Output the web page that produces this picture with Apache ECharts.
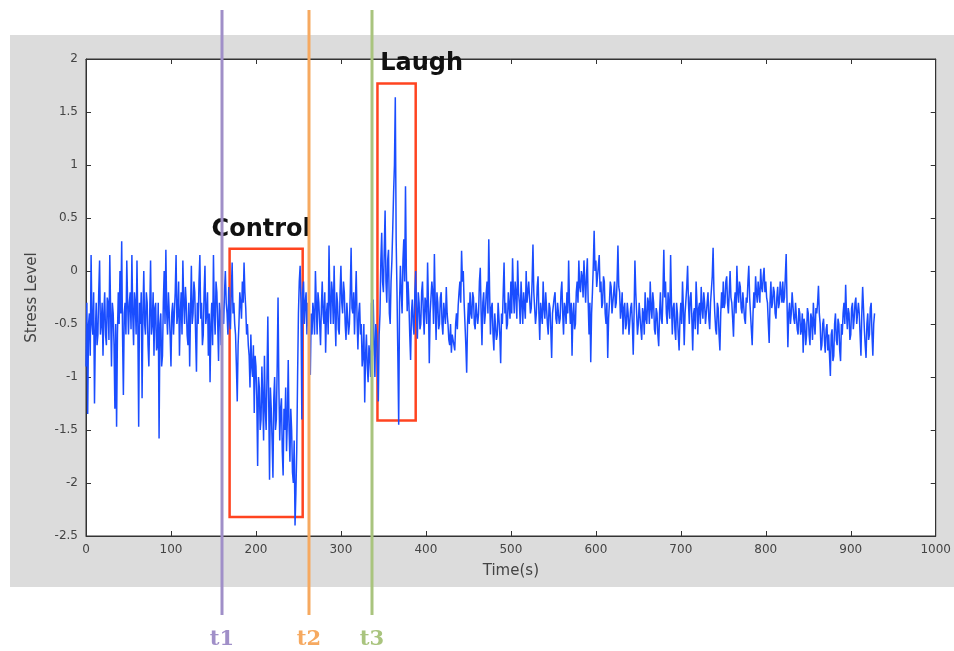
<!DOCTYPE html>
<html>
<head>
<meta charset="utf-8">
<title>Stress Level</title>
<script src="https://cdn.jsdelivr.net/npm/echarts@6/dist/echarts.min.js"></script>
<style>
    html, body { margin: 0; padding: 0; background: #fff; }
    #wrap { position: relative; width: 954px; height: 651px; }
    #panel { position: absolute; left: 10px; top: 35px; width: 944px; height: 552px; background: #dcdcdc; }
    #main { position: absolute; left: 0; top: 0; width: 954px; height: 651px; }
</style>
</head>
<body>
<div id="wrap">
    <div id="panel"></div>
    <div id="main"></div>
</div>
<script>
// one sample per second
var sampleStep = 1;
var stress = [
    // 0 - 49
    -0.9, -0.3, -1.35, -0.5, -0.4, -0.8, 0.15, -0.5, -0.6, -0.2, -1.25, -0.6, -0.3, -0.7, -0.6, -0.2, 0.1, -0.6, -0.5, -0.3,
    -0.8, -0.4, -0.2, -0.6, -0.7, -0.25, -0.3, -0.65, 0.15, -0.4, -0.9, -0.3, -0.4, -0.7, -1.3, -0.5, -1.47, -0.6, -0.2, -0.5,
    0.0, -0.4, 0.28, -0.6, -1.17, -0.4, -0.3, -0.6, 0.1, -0.3,
    // 50 - 99
    -0.6, -0.3, -0.2, -0.55, 0.15, -0.4, -0.7, -0.2, -0.3, -0.6, 0.1, -0.5, -1.47, -0.3, -0.5, -0.2, -1.2, -0.4, 0.0, -0.5,
    -0.6, -0.2, -0.3, -0.7, -0.9, -0.4, 0.1, -0.6, -0.5, -0.2, -0.8, -0.35, -0.3, -0.75, -0.7, -0.3, -1.58, -0.5, -0.4, -0.9,
    -0.8, -0.3, 0.0, -0.5, 0.2, -0.4, -0.6, -0.2, -0.2, -0.6,
    // 100 - 149
    -0.9, -0.4, -0.3, -0.6, -0.6, -0.2, 0.15, -0.5, -0.4, -0.1, -0.8, -0.4, -0.2, -0.6, 0.1, -0.3, -0.5, -0.15, -0.3, -0.6,
    -0.7, -0.3, -0.9, -0.4, 0.05, -0.5, -0.4, -0.1, -0.2, -0.6, -0.95, -0.3, -0.5, -0.1, 0.15, -0.45, -0.3, -0.7, -0.6, -0.2,
    0.05, -0.5, -0.4, -0.2, -0.8, -0.4, -1.05, -0.5, -0.3, -0.7,
    // 150 - 199
    0.15, -0.4, -0.6, -0.1, -0.2, -0.5, -0.85, -0.3, -0.4, -0.7, -0.1, -0.45, -0.5, -0.2, 0.0, -0.3, -0.4, -0.6, -0.15, -0.45,
    -0.55, -0.2, 0.08, -0.4, -0.3, -0.5, -0.6, -0.9, -1.23, -0.7, -0.5, -0.2, -0.3, -0.45, -0.1, -0.3, 0.08, -0.2, -0.35, -0.6,
    -0.5, -0.7, -0.8, -1.1, -0.6, -0.9, -1.0, -0.7, -1.34, -0.8,
    // 200 - 249
    -0.9, -1.2, -1.84, -1.0, -1.1, -1.5, -1.4, -0.9, -1.2, -1.6, -0.8, -1.3, -1.5, -1.0, -0.43, -1.2, -1.97, -1.1, -1.3, -1.6,
    -1.95, -1.2, -1.0, -1.5, -1.4, -0.9, -0.25, -1.1, -1.6, -1.3, -1.2, -1.7, -1.93, -1.3, -1.5, -1.1, -1.7, -1.4, -0.84, -1.5,
    -1.8, -1.3, -1.5, -1.9, -2.0, -1.6, -2.4, -2.1, -1.7, -1.0,
    // 250 - 299
    -0.4, -0.1, 0.05, -0.3, -1.4, -0.2, -0.1, -0.5, -0.3, -0.2, -0.6, -0.3, -0.5, -0.7, -0.98, -0.4, -0.6, -0.3, -0.4, -0.6,
    0.0, -0.3, -0.6, -0.2, -0.3, -0.5, -0.7, -0.35, -0.1, -0.4, -0.5, -0.2, -0.77, -0.4, -0.3, -0.6, 0.24, -0.3, -0.5, -0.1,
    -0.2, -0.5, 0.05, -0.4, -0.71, -0.2, -0.3, -0.55, -0.6, -0.2,
    // 300 - 349
    0.05, -0.3, -0.4, -0.1, -0.2, -0.5, -0.65, -0.3, -0.3, -0.6, -0.5, -0.2, 0.22, -0.35, -0.4, -0.2, -0.6, -0.3, 0.0, -0.45,
    -0.74, -0.4, -0.3, -0.6, -0.5, -0.9, -0.8, -0.5, -1.24, -0.8, -0.6, -0.9, -1.05, -0.7, -0.8, -1.0, -0.3, -0.8, -0.27, -0.7,
    -1.0, -0.5, -0.6, -0.9, -1.23, -0.6, -0.4, 0.1, 0.36, -0.1,
    // 350 - 399
    -0.2, 0.2, 0.57, -0.1, -0.3, 0.1, 0.2, -0.4, -0.5, -0.1, 0.1, 0.4, 0.74, 1.0, 1.64, 0.3, -0.2, -0.8, -1.45, -0.3,
    0.05, -0.2, -0.4, 0.1, 0.3, -0.1, 0.8, 0.0, -0.38, -0.1, -0.3, -0.6, -0.84, -0.4, -0.27, -0.5, -0.6, -0.2, 0.0, -0.4,
    -0.64, -0.2, -0.3, -0.55, -0.5, -0.2, -0.1, -0.4, -0.6, -0.25,
    // 400 - 449
    -0.3, -0.5, 0.08, -0.3, -0.87, -0.4, -0.4, -0.1, -0.2, -0.5, 0.16, -0.3, -0.65, -0.2, -0.3, -0.55, -0.5, -0.25, -0.2, -0.5,
    -0.6, -0.3, -0.3, -0.5, -0.15, -0.4, -0.5, -0.65, -0.7, -0.5, -0.77, -0.6, -0.6, -0.7, -0.75, -0.5, -0.4, -0.55, -0.33, -0.2,
    -0.1, -0.3, 0.19, -0.1, 0.0, -0.3, -0.5, -0.7, -0.96, -0.5,
    // 450 - 499
    -0.3, -0.5, -0.2, -0.4, -0.45, -0.2, -0.25, -0.5, -0.55, -0.3, -0.3, -0.5, -0.4, -0.1, 0.03, -0.4, -0.7, -0.3, -0.2, -0.5,
    -0.4, -0.2, -0.1, -0.4, 0.3, -0.2, -0.6, -0.35, -0.3, -0.6, -0.75, -0.4, -0.4, -0.65, -0.6, -0.3, -0.3, -0.6, -0.87, -0.4,
    -0.5, -0.2, 0.08, -0.4, -0.3, -0.55, -0.5, -0.2, -0.2, -0.45,
    // 500 - 549
    -0.1, -0.4, 0.12, -0.2, -0.4, -0.1, -0.2, -0.45, 0.1, -0.2, -0.3, -0.5, -0.1, -0.3, -0.5, -0.2, -0.2, -0.45, 0.0, -0.3,
    -0.3, -0.1, -0.1, -0.4, -0.35, -0.1, 0.25, -0.2, -0.2, -0.5, -0.4, -0.15, -0.05, -0.4, -0.65, -0.3, -0.3, -0.5, -0.1, -0.35,
    -0.45, -0.2, -0.2, -0.5, -0.6, -0.3, -0.35, -0.55, -0.82, -0.4,
    // 550 - 599
    -0.4, -0.25, -0.2, -0.45, -0.5, -0.3, -0.3, -0.5, -0.45, -0.2, -0.1, -0.4, -0.6, -0.3, -0.35, -0.5, -0.2, -0.4, 0.1, -0.3,
    -0.5, -0.3, -0.8, -0.4, -0.3, -0.55, -0.5, -0.2, -0.1, -0.3, 0.1, -0.15, -0.2, 0.0, -0.05, -0.25, 0.1, -0.1, -0.3, -0.05,
    0.12, -0.3, -0.6, -0.3, -0.86, -0.4, -0.2, 0.05, 0.38, 0.0,
    // 600 - 649
    0.1, -0.15, -0.05, 0.05, 0.15, -0.2, -0.1, -0.35, -0.3, -0.05, -0.1, -0.4, -0.5, -0.3, -0.82, -0.45, -0.3, -0.1, -0.15, -0.4,
    -0.4, -0.2, -0.1, -0.35, -0.3, -0.1, 0.24, -0.15, -0.2, -0.45, -0.35, -0.2, -0.6, -0.35, -0.3, -0.55, -0.5, -0.3, -0.4, -0.6,
    -0.6, -0.35, -0.3, -0.5, -0.79, -0.4, 0.1, -0.2, -0.4, -0.6,
    // 650 - 699
    -0.5, -0.3, -0.3, -0.55, -0.65, -0.35, -0.4, -0.6, -0.2, -0.45, -0.5, -0.25, -0.3, -0.5, -0.1, -0.35, -0.45, -0.2, -0.3, -0.55,
    -0.6, -0.35, -0.4, -0.6, -0.71, -0.4, -0.2, -0.45, -0.5, -0.2, 0.2, -0.25, -0.1, -0.4, -0.5, -0.2, -0.2, -0.45, 0.15, -0.3,
    -0.6, -0.35, -0.3, -0.55, -0.65, -0.3, -0.4, -0.6, -0.75, -0.45,
    // 700 - 749
    -0.3, -0.5, -0.1, -0.35, -0.7, -0.4, -0.4, -0.15, 0.05, -0.3, -0.5, -0.25, -0.2, -0.45, -0.75, -0.4, -0.35, -0.55, -0.1, -0.3,
    -0.6, -0.35, -0.3, -0.5, -0.15, -0.35, -0.45, -0.2, -0.3, -0.5, -0.5, -0.3, -0.2, -0.45, -0.55, -0.3, -0.3, -0.05, 0.22, -0.2,
    -0.4, -0.55, -0.6, -0.3, -0.35, -0.6, -0.75, -0.4, -0.2, -0.35,
    // 750 - 799
    -0.1, -0.35, -0.3, -0.1, -0.05, -0.3, -0.4, -0.2, 0.0, -0.25, -0.3, -0.45, -0.62, -0.3, -0.2, -0.4, 0.05, -0.2, -0.3, -0.1,
    -0.15, -0.35, -0.4, -0.2, -0.2, -0.45, -0.5, -0.25, -0.3, -0.1, 0.05, -0.25, -0.4, -0.55, -0.7, -0.4, -0.2, -0.35, -0.05, -0.2,
    -0.3, -0.1, -0.1, -0.3, 0.02, -0.15, -0.2, -0.05, 0.03, -0.2,
    // 800 - 849
    -0.1, -0.25, -0.3, -0.5, -0.68, -0.3, -0.1, -0.35, -0.3, -0.15, -0.2, -0.4, -0.45, -0.25, -0.15, -0.35, -0.3, -0.1, -0.2, -0.3,
    -0.1, -0.3, -0.25, -0.05, 0.16, -0.3, -0.72, -0.4, -0.3, -0.5, -0.4, -0.2, -0.2, -0.45, -0.5, -0.3, -0.3, -0.55, -0.6, -0.35,
    -0.4, -0.6, -0.55, -0.4, -0.77, -0.45, -0.5, -0.7, -0.6, -0.35,
    // 850 - 899
    -0.4, -0.6, -0.7, -0.4, -0.45, -0.65, -0.3, -0.5, -0.6, -0.35, -0.4, -0.3, -0.14, -0.4, -0.5, -0.75, -0.7, -0.5, -0.45, -0.65,
    -0.77, -0.55, -0.5, -0.75, -0.6, -0.8, -0.99, -0.6, -0.55, -0.85, -0.8, -0.5, -0.4, -0.65, -0.7, -0.45, -0.5, -0.75, -0.85, -0.5,
    -0.6, -0.4, -0.3, -0.5, -0.13, -0.4, -0.55, -0.35, -0.4, -0.65,
    // 900 - 928
    -0.6, -0.35, -0.3, -0.55, -0.45, -0.3, -0.25, -0.5, -0.5, -0.3, -0.4, -0.6, -0.8, -0.4, -0.15, -0.35, -0.55, -0.7, -0.82, -0.5,
    -0.4, -0.65, -0.6, -0.35, -0.3, -0.6, -0.8, -0.5, -0.4
];

// event markers (seconds)
var markerTimes = [160, 263, 336];
var markerNames = ['t1', 't2', 't3'];
var markerColors = ['#a08fc8', '#f6a960', '#a9c47e'];

// highlighted windows
var boxNames = ['Control', 'Laugh'];
var boxFrom = [169, 343];
var boxTo = [255, 388];
var boxHigh = [0.21, 1.77];
var boxLow = [-2.32, -1.41];
var boxLabelShift = [-5, 25];

var chart = echarts.init(document.getElementById('main'));

var seriesData = stress.map(function (v, i) { return [i * sampleStep, v]; });

var areas = boxNames.map(function (n, i) {
    return [{
        name: n,
        coord: [boxFrom[i], boxHigh[i]],
        label: { offset: [boxLabelShift[i], 0] }
    }, {
        coord: [boxTo[i], boxLow[i]]
    }];
});

var axisFont = { fontFamily: 'DejaVu Sans', fontSize: 12, color: '#444' };
var tickStyle = { show: true, inside: true, length: 5, lineStyle: { color: '#333' } };
var lineStyle = { show: true, onZero: false, lineStyle: { color: '#333', width: 1 } };

var option = {
    animation: false,
    grid: {
        left: 86, right: 16, top: 59, bottom: 115,
        show: true, backgroundColor: '#fff', borderColor: '#333', borderWidth: 1
    },
    xAxis: [{
        type: 'value', min: 0, max: 1000, interval: 100,
        name: 'Time(s)', nameLocation: 'middle', nameGap: 28,
        nameTextStyle: { fontFamily: 'DejaVu Sans', fontSize: 15, color: '#444' },
        axisLine: lineStyle, axisTick: tickStyle,
        axisLabel: { fontFamily: 'DejaVu Sans', fontSize: 12, color: '#444', formatter: function (v) { return String(v); } },
        splitLine: { show: false }
    }, {
        type: 'value', position: 'top', min: 0, max: 1000, interval: 100,
        axisLine: lineStyle, axisTick: tickStyle,
        axisLabel: { show: false }, splitLine: { show: false }
    }],
    yAxis: [{
        type: 'value', min: -2.5, max: 2, interval: 0.5,
        name: 'Stress Level', nameLocation: 'middle', nameGap: 46,
        nameTextStyle: { fontFamily: 'DejaVu Sans', fontSize: 15, color: '#444' },
        axisLine: lineStyle, axisTick: tickStyle,
        axisLabel: axisFont, splitLine: { show: false }
    }, {
        type: 'value', position: 'right', min: -2.5, max: 2, interval: 0.5,
        axisLine: lineStyle, axisTick: tickStyle,
        axisLabel: { show: false }, splitLine: { show: false }
    }],
    series: [{
        type: 'line',
        data: seriesData,
        showSymbol: false,
        lineStyle: { color: '#1a4dff', width: 1.5 },
        markArea: {
            silent: true,
            itemStyle: { color: 'rgba(0,0,0,0)', borderColor: '#ff4420', borderWidth: 2.5 },
            label: {
                show: true, position: 'top', distance: 6,
                fontFamily: 'DejaVu Sans', fontWeight: 'bold', fontSize: 24, color: '#111'
            },
            data: areas
        }
    }]
};

chart.setOption(option);

// t1/t2/t3 lines run past the plot, so draw them as graphics at the axis positions
var marks = [];
markerTimes.forEach(function (t, i) {
    var x = Math.round(chart.convertToPixel({ xAxisIndex: 0 }, t));
    marks.push({
        type: 'line', z: 100,
        shape: { x1: x, y1: 10, x2: x, y2: 615 },
        style: { stroke: markerColors[i], lineWidth: 3 }
    });
    marks.push({
        type: 'text', z: 100,
        x: x, y: 640,
        style: {
            text: markerNames[i], fill: markerColors[i],
            font: 'bold 21px "DejaVu Serif"',
            align: 'center', verticalAlign: 'middle'
        }
    });
});
chart.setOption({ graphic: marks });
</script>
</body>
</html>
